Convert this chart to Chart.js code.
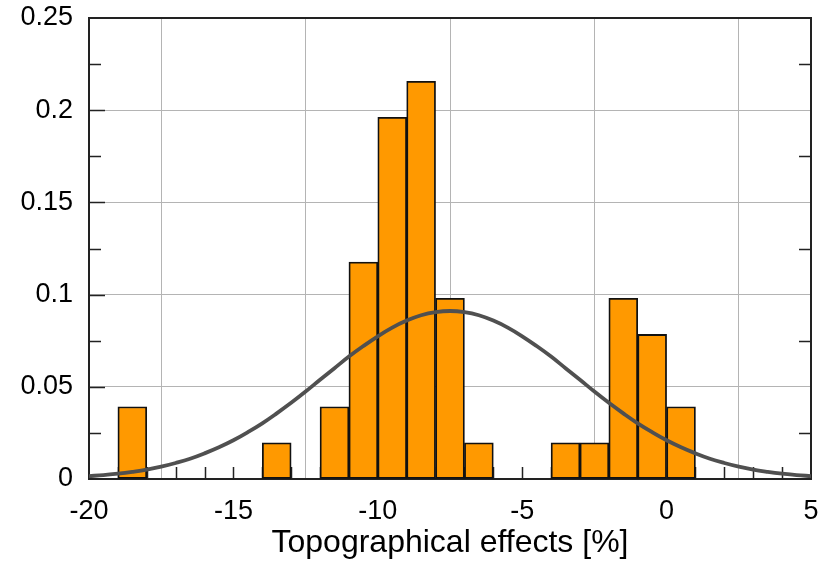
<!DOCTYPE html>
<html>
<head>
<meta charset="utf-8">
<script src="https://cdn.jsdelivr.net/npm/chart.js@4/dist/chart.umd.min.js"></script>
<style>
  html, body { margin: 0; padding: 0; background: #fff; }
  #wrap { width: 824px; height: 564px; }
</style>
</head>
<body>
<div id="wrap"><canvas id="c" width="824" height="564"></canvas></div>
<script>
// Histogram of topographical effects (bin width 1 %), given as bin centres and densities
const binCenters = [-18.5, -13.5, -11.5, -10.5, -9.5, -8.5, -7.5, -6.5, -3.5, -2.5, -1.5, -0.5, 0.5];
const densities  = [0.0392, 0.0196, 0.0392, 0.1176, 0.1961, 0.2157, 0.0980, 0.0196, 0.0196, 0.0196, 0.0980, 0.0784, 0.0392];

// Fitted normal density curve
const curveX = [-20, -19.5, -19, -18.5, -18, -17.5, -17, -16.5, -16, -15.5, -15, -14.5, -14, -13.5, -13, -12.5,
                -12, -11.5, -11, -10.5, -10, -9.5, -9, -8.5, -8, -7.5, -7, -6.5, -6, -5.5, -5, -4.5, -4, -3.5,
                -3, -2.5, -2, -1.5, -1, -0.5, 0, 0.5, 1, 1.5, 2, 2.5, 3, 3.5, 4, 4.5, 5];
const curveY = [0.0016, 0.0021, 0.0029, 0.0039, 0.0051, 0.0067, 0.0087, 0.0110, 0.0139, 0.0172, 0.0210, 0.0254,
                0.0302, 0.0356, 0.0413, 0.0474, 0.0538, 0.0601, 0.0664, 0.0721, 0.0774, 0.0821, 0.0859, 0.0888,
                0.0905, 0.0911, 0.0905, 0.0888, 0.0859, 0.0821, 0.0774, 0.0721, 0.0664, 0.0601, 0.0538, 0.0474,
                0.0413, 0.0356, 0.0302, 0.0254, 0.0210, 0.0172, 0.0139, 0.0110, 0.0087, 0.0067, 0.0051, 0.0039,
                0.0029, 0.0021, 0.0016];

// Axis tick labels
const xTickValues = [-20, -15, -10, -5, 0, 5];
const xTickLabels = ['-20', '-15', '-10', '-5', '0', '5'];
const yTickValues = [0, 0.05, 0.1, 0.15, 0.2, 0.25];
const yTickLabels = ['0', '0.05', '0.1', '0.15', '0.2', '0.25'];
const xTitle = 'Topographical effects [%]';

const FONT = 'Liberation Sans, Arial, sans-serif';

function labelFor(values, labels, v) {
  const i = values.findIndex(t => Math.abs(t - v) < 1e-9);
  return i >= 0 ? labels[i] : '';
}

// Frame around the plot area plus inward-pointing minor/major ticks
const framePlugin = {
  id: 'frameTicks',
  beforeDatasetsDraw(chart) {
    const { ctx, chartArea: a, scales } = chart;
    const xs = scales.x, ys = scales.y;
    ctx.save();
    ctx.strokeStyle = '#222';
    ctx.lineWidth = 1.5;
    ctx.beginPath();
    // bottom ticks at every unit
    for (let v = -19; v <= 4; v++) {
      const px = Math.round(xs.getPixelForValue(v)) + 0.5;
      ctx.moveTo(px, a.bottom);
      ctx.lineTo(px, a.bottom - 12);
    }
    // left / right ticks every 0.025
    for (let k = 1; k < 10; k++) {
      const v = k * 0.025;
      const py = Math.round(ys.getPixelForValue(v)) + 0.5;
      const major = k % 2 === 0;
      ctx.moveTo(a.left, py);
      ctx.lineTo(a.left + (major ? 16 : 12), py);
      if (!major) {
        ctx.moveTo(a.right, py);
        ctx.lineTo(a.right - 12, py);
      }
    }
    ctx.stroke();
    ctx.lineWidth = 2;
    ctx.strokeRect(a.left, a.top, a.right - a.left, a.bottom - a.top);
    ctx.restore();
  }
};

new Chart(document.getElementById('c'), {
  type: 'bar',
  data: {
    datasets: [
      {
        type: 'line',
        data: curveX.map((x, i) => ({ x, y: curveY[i] })),
        borderColor: '#505050',
        borderWidth: 3.8,
        pointRadius: 0,
        tension: 0.4,
        fill: false,
        order: 0
      },
      {
        type: 'bar',
        data: binCenters.map((x, i) => ({ x, y: densities[i] })),
        backgroundColor: '#ff9900',
        borderColor: '#111',
        borderWidth: 1.8,
        borderSkipped: false,
        barPercentage: 1.0,
        categoryPercentage: 1.0,
        order: 1
      }
    ]
  },
  options: {
    responsive: false,
    animation: false,
    events: [],
    layout: { padding: { top: 18, right: 13, left: 0, bottom: 0 } },
    plugins: { legend: { display: false }, tooltip: { enabled: false } },
    scales: {
      x: {
        type: 'linear',
        min: -20, max: 5,
        offset: false,
        afterBuildTicks: s => { s.ticks = xTickValues.map(v => ({ value: v })); },
        grid: { color: '#b4b4b4', lineWidth: 1, drawTicks: false },
        border: { display: false },
        ticks: {
          color: '#000',
          font: { family: FONT, size: 27 },
          padding: 16,
          maxRotation: 0,
          callback: v => labelFor(xTickValues, xTickLabels, v)
        },
        title: {
          display: true,
          text: xTitle,
          color: '#000',
          font: { family: FONT, size: 32 },
          padding: { top: 0, bottom: 2 }
        },
        afterFit: s => { s.height = 85; s.paddingLeft = 0; s.paddingRight = 0; }
      },
      y: {
        type: 'linear',
        min: 0, max: 0.25,
        afterBuildTicks: s => { s.ticks = yTickValues.map(v => ({ value: v })); },
        grid: { color: '#b4b4b4', lineWidth: 1, drawTicks: false },
        border: { display: false },
        ticks: {
          color: '#000',
          font: { family: FONT, size: 27 },
          padding: 16,
          callback: v => labelFor(yTickValues, yTickLabels, v)
        },
        afterFit: s => { s.width = 89; s.paddingTop = 0; s.paddingBottom = 0; }
      }
    }
  },
  plugins: [framePlugin]
});
</script>
</body>
</html>
